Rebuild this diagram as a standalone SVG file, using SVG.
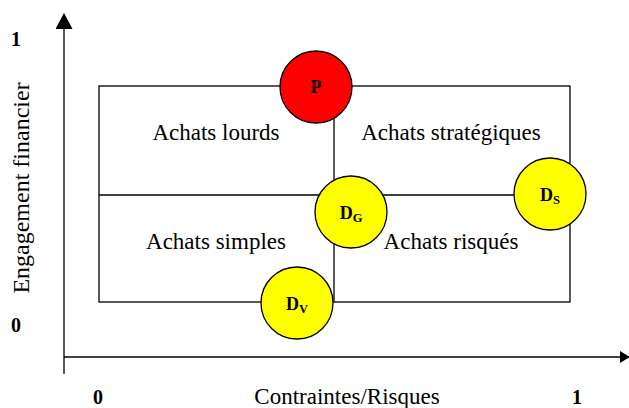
<svg xmlns="http://www.w3.org/2000/svg" width="629" height="408" viewBox="0 0 629 408">
<style>
.lbl{font-family:"Liberation Serif","Times New Roman",serif;font-size:23px;fill:#000;text-anchor:middle}
.ylbl{font-size:24px}
.num{font-family:"Liberation Serif","Times New Roman",serif;font-size:20px;font-weight:bold;fill:#000;text-anchor:middle}
.nd{font-family:"Liberation Serif","Times New Roman",serif;font-size:18px;font-weight:bold;fill:#000;text-anchor:middle}
.sub{font-size:12.5px}
.ln{stroke:#000;stroke-width:1.3;fill:none}
.circ{stroke:#000;stroke-width:1.3}
</style>
<defs>
<marker id="ah" markerWidth="10" markerHeight="12" refX="9" refY="6" orient="auto" markerUnits="userSpaceOnUse">
<path d="M0,0 L10,6 L0,12 Z" fill="#000"/>
</marker>
<marker id="ahv" markerWidth="16" markerHeight="18" refX="15" refY="8.5" orient="auto" markerUnits="userSpaceOnUse">
<path d="M0,0 L16,8.5 L0,17 Z" fill="#000"/>
</marker>
</defs>
<g id="connectors">
<line class="ln" x1="64" y1="374" x2="64" y2="14" marker-end="url(#ahv)"/>
<line class="ln" x1="64" y1="357" x2="629" y2="357" marker-end="url(#ah)"/>
</g>
<g id="matrix">
<rect class="ln" x="99" y="86" width="471" height="216"/>
<line class="ln" x1="99" y1="195" x2="570" y2="195"/>
<line class="ln" x1="334" y1="86" x2="334" y2="302"/>
<text class="lbl" x="216" y="140">Achats lourds</text>
<text class="lbl" x="451" y="140">Achats stratégiques</text>
<text class="lbl" x="216" y="249">Achats simples</text>
<text class="lbl" x="451" y="249">Achats risqués</text>
</g>
<g id="axis-labels">
<text class="num" x="16" y="46">1</text>
<text class="num" x="16" y="332">0</text>
<text class="num" x="98" y="404">0</text>
<text class="num" x="577" y="404">1</text>
<text class="lbl" x="347" y="404">Contraintes/Risques</text>
<text class="lbl ylbl" transform="translate(29,188) rotate(-90)">Engagement financier</text>
</g>
<g id="node-P">
<circle class="circ" cx="316" cy="87" r="36" fill="#ff0000"/>
<text class="nd" x="316" y="93">P</text>
</g>
<g id="node-DG">
<circle class="circ" cx="351" cy="212" r="36" fill="#ffff00"/>
<text class="nd" x="351" y="219">D<tspan class="sub" dy="3">G</tspan></text>
</g>
<g id="node-DV">
<circle class="circ" cx="297" cy="303" r="36" fill="#ffff00"/>
<text class="nd" x="297" y="310">D<tspan class="sub" dy="3">V</tspan></text>
</g>
<g id="node-DS">
<circle class="circ" cx="550" cy="194" r="36" fill="#ffff00"/>
<text class="nd" x="550" y="201">D<tspan class="sub" dy="3">S</tspan></text>
</g>
</svg>
